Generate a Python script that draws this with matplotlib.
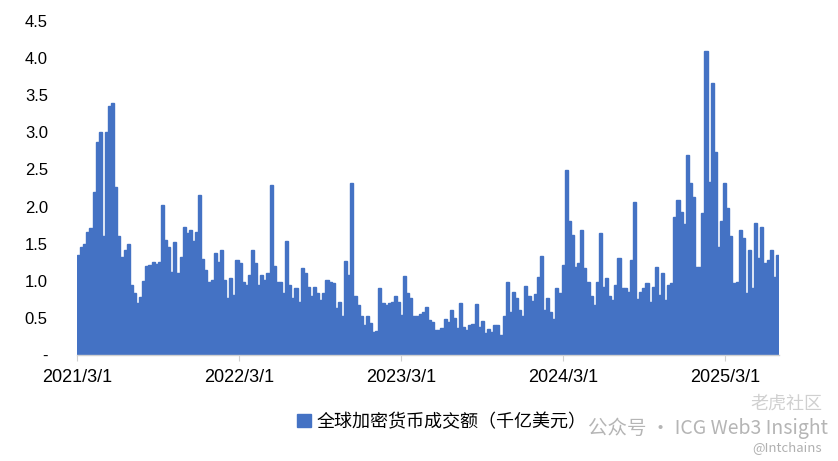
import matplotlib
matplotlib.use("Agg")
import matplotlib.pyplot as plt
import pandas as pd
from matplotlib.patches import Patch

# ---------------- data (weekly estimates, 千亿美元) ----------------
start_date = "2021-03-01"
vol_2021_22 = [1.35, 1.45, 1.5, 1.66, 1.71, 2.2, 2.87, 3.0, 1.6, 3.0, 3.35, 3.4, 2.26,
               1.6, 1.32, 1.41, 1.5, 0.94, 0.83, 0.70, 0.78, 1.0, 1.2, 1.21, 1.25, 1.23,
               1.25, 2.02, 1.55, 1.46, 1.12, 1.52, 1.1, 1.32, 1.72, 1.64, 1.68, 1.53, 1.66,
               2.15, 1.3, 1.14, 0.99, 1.01, 1.37, 1.25, 1.41, 1.01, 0.77, 1.04, 0.81, 1.28]
vol_2022_23 = [1.24, 0.99, 0.94, 1.08, 1.41, 1.24, 0.94, 1.08, 1.01, 1.1, 2.29, 1.2, 0.99,
               0.99, 0.83, 1.53, 0.94, 0.77, 0.9, 0.72, 1.17, 1.1, 0.92, 0.79, 0.92, 0.83,
               0.74, 0.83, 1.01, 0.99, 0.97, 0.63, 0.72, 0.52, 1.26, 1.08, 2.32, 0.8, 0.67,
               0.52, 0.4, 0.52, 0.43, 0.31, 0.33, 0.9, 0.7, 0.67, 0.7, 0.72, 0.79, 0.72]
vol_2023_24 = [0.54, 1.06, 0.83, 0.77, 0.52, 0.52, 0.55, 0.58, 0.65, 0.47, 0.45, 0.34, 0.34,
               0.36, 0.48, 0.45, 0.6, 0.5, 0.36, 0.7, 0.38, 0.34, 0.4, 0.42, 0.69, 0.38,
               0.46, 0.3, 0.35, 0.31, 0.4, 0.4, 0.27, 0.53, 0.99, 0.58, 0.85, 0.77, 0.6,
               0.52, 0.93, 0.79, 0.73, 0.82, 1.05, 1.34, 0.6, 0.77, 0.58, 0.48, 0.9, 0.83]
vol_2024_25 = [1.21, 2.49, 1.8, 1.62, 1.19, 1.24, 1.68, 1.17, 0.99, 0.79, 0.67, 0.99, 1.64,
               0.92, 1.04, 0.8, 0.74, 0.94, 1.31, 0.9, 0.9, 0.85, 1.28, 2.06, 0.75, 0.85,
               0.9, 0.97, 0.72, 0.92, 1.19, 0.81, 1.1, 0.74, 0.94, 0.97, 1.86, 2.09, 1.93,
               1.77, 2.69, 2.32, 2.13, 1.19, 1.19, 1.91, 4.09, 2.33, 3.66, 2.74, 1.46, 1.8]
vol_2025 = [2.32, 1.98, 1.6, 0.97, 0.99, 1.68, 1.58, 0.83, 1.41, 0.9, 1.78, 1.31, 1.73,
            1.24, 1.28, 1.41, 1.05, 1.35]

tick_dates = ["2021-03-01", "2022-03-01", "2023-03-01", "2024-03-01", "2025-03-01"]
tick_labels = ["2021/3/1", "2022/3/1", "2023/3/1", "2024/3/1", "2025/3/1"]
y_ticks = [0, 0.5, 1.0, 1.5, 2.0, 2.5, 3.0, 3.5, 4.0, 4.5]
y_tick_labels = ["-", "0.5", "1.0", "1.5", "2.0", "2.5", "3.0", "3.5", "4.0", "4.5"]
legend_label = "全球加密货币成交额（千亿美元）"

volume = vol_2021_22 + vol_2022_23 + vol_2023_24 + vol_2024_25 + vol_2025
dates = pd.date_range(start_date, periods=len(volume), freq="7D")

# ---------------- figure ----------------
plt.rcParams['font.family'] = ['Liberation Sans', 'Noto Sans CJK SC', 'DejaVu Sans']
BLUE = "#4472C4"

fig = plt.figure(figsize=(8.38, 4.61), dpi=100)
ax = fig.add_axes([77 / 838, 1 - 355 / 461, (779 - 77) / 838, (355 - 21) / 461])

ax.bar(dates, volume, width=7, align="edge", color=BLUE, edgecolor=BLUE, linewidth=1.0)

ax.set_xlim(pd.Timestamp(start_date), dates[-1] + pd.Timedelta(days=7))
ax.set_ylim(0, 4.5)

ax.set_yticks(y_ticks)
ax.set_yticklabels(y_tick_labels, fontsize=12)
ax.set_xticks(pd.to_datetime(tick_dates))
ax.set_xticklabels(tick_labels, fontsize=13)

ax.tick_params(axis="y", length=0, pad=21)
ax.tick_params(axis="x", length=4, color="#d0d0d0", pad=6, direction="out")

for s in ["top", "right", "left"]:
    ax.spines[s].set_visible(False)
ax.spines["bottom"].set_color("#d0d0d0")
ax.spines["bottom"].set_linewidth(1.0)
ax.spines["bottom"].set_zorder(5)

handle = Patch(facecolor=BLUE, edgecolor=BLUE)
fig.legend([handle], [legend_label], loc="center", bbox_to_anchor=(442 / 838, 1 - 422 / 461),
           frameon=False, handlelength=0.75, handleheight=0.75, handletextpad=0.35,
           prop={"family": ["Noto Sans CJK SC", "DejaVu Sans"], "size": 13})

# watermark text overlaid on the reference image
wm_font = ["Noto Sans CJK SC", "DejaVu Sans"]
fig.text(588 / 838, 1 - 428 / 461, "公众号 · ICG Web3 Insight", family=wm_font, fontsize=14,
         color="#a8a8a8", alpha=0.85, ha="left", va="center", zorder=10)
fig.text(822 / 838, 1 - 404 / 461, "老虎社区", family=wm_font, fontsize=13,
         color="#d0d0d0", ha="right", va="center", zorder=10)
fig.text(822 / 838, 1 - 448 / 461, "@Intchains", family=wm_font, fontsize=9.5,
         color="#b0b0b0", ha="right", va="center", zorder=10)

fig.savefig("out.png", dpi=100)
